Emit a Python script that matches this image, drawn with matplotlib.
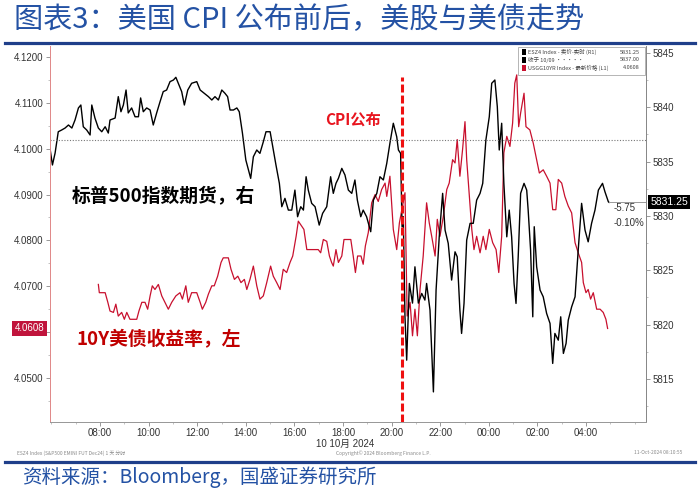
import numpy as np
import matplotlib
matplotlib.use('Agg')
import matplotlib.pyplot as plt
from matplotlib.lines import Line2D
from matplotlib.patches import Rectangle
from matplotlib.ticker import MultipleLocator, FixedLocator

plt.rcParams['font.family'] = ['Noto Sans CJK SC', 'DejaVu Sans']

# 时间：小时（从10月10日00:00算起，>24 为次日）
es_t = [5.94, 6.04, 6.15, 6.28, 6.42, 6.56, 6.70, 6.84, 6.97, 7.11, 7.21, 7.31, 7.45, 7.59,
        7.66, 7.79, 7.93, 8.07, 8.21, 8.34, 8.41, 8.62, 8.75, 8.86, 8.96, 9.07, 9.16, 9.30,
        9.44, 9.58, 9.67, 9.78, 9.92, 10.06, 10.19, 10.33, 10.47, 10.60, 10.74, 10.88, 11.02,
        11.12, 11.22, 11.36, 11.47, 11.61, 11.77, 11.98, 12.12, 12.29, 12.46, 12.60, 12.73,
        12.87, 13.01, 13.14, 13.25, 13.35, 13.49, 13.63, 13.73, 13.86, 14.00, 14.20, 14.31,
        14.45, 14.58, 14.72, 14.83, 15.00, 15.13, 15.24, 15.38, 15.48, 15.61, 15.75, 15.89,
        16.02, 16.13, 16.26, 16.37, 16.48, 16.57, 16.71, 16.85, 17.02, 17.16, 17.33, 17.49,
        17.60, 17.71, 17.81, 17.95, 18.08, 18.22, 18.36, 18.49, 18.59, 18.73, 18.83, 18.97,
        19.14, 19.25, 19.39, 19.52, 19.66, 19.80, 19.93, 20.07, 20.21, 20.28, 20.37, 20.43,
        20.48, 20.55, 20.62, 20.73, 20.86, 20.96, 21.10, 21.24, 21.37, 21.44, 21.58, 21.72,
        21.83, 21.96, 22.10, 22.20, 22.33, 22.47, 22.61, 22.70, 22.81, 22.88, 22.98, 23.09,
        23.23, 23.36, 23.50, 23.64, 23.75, 23.88, 24.02, 24.12, 24.25, 24.35, 24.43, 24.53,
        24.62, 24.74, 24.84, 24.94, 25.04, 25.12, 25.21, 25.31, 25.45, 25.56, 25.62, 25.72,
        25.81, 25.87, 25.97, 26.11, 26.24, 26.38, 26.52, 26.63, 26.72, 26.86, 26.96, 27.07,
        27.18, 27.27, 27.41, 27.55, 27.68, 27.82, 27.96, 28.09, 28.23, 28.37, 28.51, 28.68,
        28.78, 28.92, 28.95]
es_px = [5836.22, 5834.69, 5835.79, 5837.75, 5837.91, 5838.09, 5838.37, 5838.09, 5838.83,
         5839.94, 5840.21, 5838.21, 5837.91, 5837.45, 5840.21, 5839.01, 5838.09, 5837.75,
         5838.21, 5837.63, 5838.83, 5839.01, 5840.98, 5839.59, 5840.21, 5841.59, 5839.48,
         5839.94, 5839.13, 5839.13, 5840.86, 5839.59, 5839.94, 5839.75, 5838.37, 5839.48,
         5840.52, 5841.44, 5841.59, 5842.36, 5842.51, 5842.76, 5842.21, 5841.44, 5840.21,
         5841.59, 5842.21, 5842.36, 5841.59, 5841.29, 5840.98, 5840.67, 5840.98, 5840.67,
         5841.59, 5841.29, 5840.98, 5839.75, 5839.75, 5839.94, 5839.59, 5837.63, 5835.15,
         5833.46, 5835.45, 5836.07, 5835.76, 5836.83, 5837.75, 5837.75, 5836.07, 5834.69,
         5833.00, 5830.85, 5831.62, 5830.54, 5830.54, 5832.38, 5829.93, 5830.85, 5830.54,
         5833.61, 5832.38, 5831.16, 5830.85, 5829.16, 5830.24, 5830.85, 5833.61, 5832.08,
         5833.00, 5833.46, 5834.38, 5833.77, 5832.38, 5832.08, 5833.31, 5831.46, 5829.93,
         5830.54, 5829.93, 5828.55, 5831.46, 5832.08, 5833.61, 5833.31, 5834.84, 5836.69,
         5838.53, 5837.29, 5836.07, 5835.76, 5829.01, 5829.93, 5820.72, 5816.73, 5823.79,
         5821.98, 5825.32, 5821.98, 5822.87, 5822.26, 5823.79, 5821.34, 5813.81, 5823.18,
         5828.08, 5832.08, 5828.70, 5827.48, 5824.10, 5826.70, 5826.24, 5821.34, 5819.19,
         5821.95, 5827.78, 5829.32, 5829.32, 5831.46, 5832.08, 5833.00, 5836.99, 5839.13,
         5842.21, 5842.51, 5840.06, 5836.07, 5838.53, 5833.00, 5828.08, 5830.54, 5828.08,
         5823.79, 5821.95, 5826.24, 5832.08, 5833.00, 5832.38, 5830.54, 5826.86, 5820.72,
         5829.01, 5825.32, 5823.18, 5822.56, 5821.03, 5820.11, 5816.43, 5819.19, 5818.57,
         5820.72, 5817.35, 5818.27, 5820.41, 5821.64, 5822.56, 5826.86, 5831.16, 5828.70,
         5827.62, 5829.32, 5830.54, 5832.38, 5833.00, 5832.23, 5831.31, 5831.25]

ust_t = [7.93, 7.97, 8.21, 8.32, 8.41, 8.55, 8.65, 8.75, 8.89, 9.00, 9.10, 9.23, 9.51, 9.60,
         9.72, 9.85, 9.96, 10.06, 10.15, 10.26, 10.40, 10.54, 10.67, 10.81, 10.95, 11.12,
         11.29, 11.39, 11.53, 11.63, 11.77, 11.98, 12.12, 12.21, 12.35, 12.46, 12.60, 12.70,
         12.84, 12.98, 13.07, 13.28, 13.39, 13.53, 13.67, 13.80, 13.94, 14.04, 14.17, 14.31,
         14.45, 14.58, 14.72, 14.86, 15.02, 15.13, 15.27, 15.41, 15.54, 15.68, 15.82, 15.93,
         16.07, 16.16, 16.30, 16.39, 16.51, 16.78, 16.98, 17.08, 17.19, 17.33, 17.44, 17.53,
         17.60, 17.71, 17.81, 17.95, 18.04, 18.32, 18.42, 18.51, 18.60, 18.74, 18.83, 18.92,
         19.04, 19.18, 19.32, 19.45, 19.59, 19.73, 19.80, 19.93, 20.07, 20.21, 20.32, 20.55,
         20.64, 20.76, 20.86, 20.96, 21.06, 21.17, 21.30, 21.44, 21.55, 21.65, 21.79, 21.88,
         21.99, 22.13, 22.27, 22.37, 22.51, 22.61, 22.70, 22.81, 22.92, 23.02, 23.09, 23.19,
         23.30, 23.39, 23.50, 23.64, 23.77, 23.88, 24.02, 24.16, 24.30, 24.41, 24.53, 24.62,
         24.74, 24.87, 24.98, 25.07, 25.15, 25.23, 25.31, 25.45, 25.53, 25.69, 25.83, 25.97,
         26.08, 26.24, 26.38, 26.52, 26.63, 26.76, 26.86, 27.00, 27.13, 27.27, 27.41, 27.55,
         27.68, 27.82, 27.89, 28.00, 28.09, 28.19, 28.30, 28.44, 28.58, 28.71, 28.82, 28.89]
ust_yld = [4.0704, 4.0686, 4.0686, 4.0665, 4.0646, 4.0643, 4.0661, 4.0635, 4.0643, 4.0628,
           4.0643, 4.0628, 4.0628, 4.0646, 4.0665, 4.0665, 4.0650, 4.0679, 4.0701, 4.0693,
           4.0704, 4.0679, 4.0665, 4.0650, 4.0665, 4.0679, 4.0686, 4.0672, 4.0701, 4.0665,
           4.0686, 4.0686, 4.0665, 4.0650, 4.0665, 4.0683, 4.0701, 4.0701, 4.0722, 4.0752,
           4.0762, 4.0762, 4.0737, 4.0715, 4.0722, 4.0708, 4.0715, 4.0693, 4.0715, 4.0744,
           4.0701, 4.0672, 4.0679, 4.0708, 4.0744, 4.0722, 4.0708, 4.0693, 4.0737, 4.0730,
           4.0752, 4.0766, 4.0809, 4.0842, 4.0831, 4.0824, 4.0780, 4.0780, 4.0780, 4.0773,
           4.0802, 4.0798, 4.0766, 4.0752, 4.0744, 4.0780, 4.0752, 4.0766, 4.0802, 4.0802,
           4.0766, 4.0730, 4.0766, 4.0766, 4.0748, 4.0788, 4.0817, 4.0882, 4.0900, 4.0885,
           4.0911, 4.0925, 4.0896, 4.0940, 4.0824, 4.0780, 4.0838, 4.0904, 4.0635, 4.0665,
           4.0592, 4.0650, 4.0592, 4.0693, 4.0766, 4.0882, 4.0838, 4.0809, 4.0766, 4.0846,
           4.0809, 4.0853, 4.0911, 4.0925, 4.0976, 4.0969, 4.1020, 4.0940, 4.0998, 4.1059,
           4.0976, 4.0904, 4.0824, 4.0780, 4.0809, 4.0773, 4.0809, 4.0780, 4.0824, 4.0795,
           4.0780, 4.0730, 4.0809, 4.0991, 4.1027, 4.1005, 4.1056, 4.1143, 4.1161, 4.1048,
           4.1078, 4.1121, 4.1048, 4.1041, 4.1012, 4.0976, 4.0947, 4.0954, 4.0940, 4.0925,
           4.0867, 4.0867, 4.0933, 4.0925, 4.0896, 4.0875, 4.0860, 4.0795, 4.0773, 4.0752,
           4.0708, 4.0686, 4.0693, 4.0672, 4.0686, 4.0650, 4.0650, 4.0643, 4.0628, 4.0608]

prev_close = 5837.00
cpi_time = 20.42
x_ticks = [8, 10, 12, 14, 16, 18, 20, 22, 24, 26, 28]
x_labels = ['08:00', '10:00', '12:00', '14:00', '16:00', '18:00', '20:00',
            '22:00', '00:00', '02:00', '04:00']
left_ticks = [4.05, 4.06, 4.07, 4.08, 4.09, 4.10, 4.11, 4.12]
left_labels = ['4.0500', '', '4.0700', '4.0800', '4.0900', '4.1000', '4.1100', '4.1200']
right_ticks = [5815, 5820, 5825, 5830, 5835, 5840, 5845]

red = '#c8102e'
navy = '#1f3f8a'
tick_font = dict(family='Liberation Sans', size=7, color='#333333')

fig = plt.figure(figsize=(7, 4.91), dpi=100)
ax = fig.add_axes([50 / 700, 1 - 422 / 491, 596 / 700, 376 / 491])
ax2 = ax.twinx()

ax.plot(ust_t, ust_yld, color=red, lw=0.9)
ax2.plot(es_t, es_px, color='black', lw=1.0)

xmax = 30.47
ax.set_xlim(5.94, xmax)
ax.set_ylim(4.0404, 4.1224)
ax2.set_ylim(5811.04, 5845.64)

ax2.axhline(prev_close, color='#777777', lw=0.8, ls=(0, (1, 1.5)))
ax2.plot([es_t[-1], xmax], [es_px[-1], es_px[-1]], color='#999999', lw=0.7)
ax2.axvline(cpi_time, ymin=0, ymax=0.918, color='#ee1111', lw=2.2, ls=(0, (2.6, 1.0)))

# 坐标轴
ax.set_xticks(x_ticks)
ax.set_xticklabels(x_labels)
ax.xaxis.set_minor_locator(MultipleLocator(1))
ax.yaxis.set_major_locator(FixedLocator(left_ticks))
ax.yaxis.set_minor_locator(MultipleLocator(0.005))
ax.set_yticklabels(left_labels)
ax2.yaxis.set_major_locator(FixedLocator(right_ticks))
ax2.yaxis.set_minor_locator(MultipleLocator(2.5))
ax2.set_yticklabels([str(v) for v in right_ticks])
for a in (ax, ax2):
    for lab in a.get_xticklabels() + a.get_yticklabels():
        lab.set_fontfamily(tick_font['family'])
        lab.set_fontsize(tick_font['size'])
        lab.set_color(tick_font['color'])
ax.tick_params(axis='both', which='major', length=3, width=0.6, color='#888888', pad=1.5)
ax.tick_params(axis='both', which='minor', length=1.5, width=0.5, color='#aaaaaa')
ax2.tick_params(axis='y', which='major', length=3, width=0.6, color='#888888', pad=1.5)
ax2.tick_params(axis='y', which='minor', length=1.5, width=0.5, color='#aaaaaa')
for a in (ax, ax2):
    a.spines['top'].set_visible(False)
    a.spines['left'].set_color('#e08a8a')
    a.spines['right'].set_color('#888888')
    a.spines['bottom'].set_color('#999999')
    for s in a.spines.values():
        s.set_linewidth(0.7)

# 最新价标签
ax.annotate('%.4f' % ust_yld[-1], xy=(0, ust_yld[-1]), xycoords=('axes fraction', 'data'),
            xytext=(-4, 0), textcoords='offset points', ha='right', va='center',
            fontfamily='Liberation Sans', fontsize=7, color='white',
            bbox=dict(boxstyle='square,pad=0.25', fc='#c0143c', ec='none'))
ax2.annotate('%.2f' % es_px[-1], xy=(1, es_px[-1]), xycoords=('axes fraction', 'data'),
             xytext=(3, 0), textcoords='offset points', ha='left', va='center',
             fontfamily='Liberation Sans', fontsize=7.5, color='white',
             bbox=dict(boxstyle='square,pad=0.2', fc='black', ec='none'))
chg = es_px[-1] - prev_close
ax2.annotate('%.2f' % chg, xy=(es_t[-1], es_px[-1]), xytext=(3, -4),
             textcoords='offset points', ha='left', va='center',
             fontfamily='Liberation Sans', fontsize=7, color='#333333')
ax2.annotate('%.2f%%' % (chg / prev_close * 100), xy=(es_t[-1], es_px[-1]), xytext=(3, -15),
             textcoords='offset points', ha='left', va='center',
             fontfamily='Liberation Sans', fontsize=7, color='#333333')

# 注释文字
ax2.text(0.508, 0.803, 'CPI公布', transform=ax2.transAxes, ha='center', va='center',
         fontsize=11, fontweight='bold', color='#e8141e')
ax2.text(0.037, 0.603, '标普500指数期货，右', transform=ax2.transAxes, ha='left', va='center',
         fontsize=13.5, fontweight='bold', color='black')
ax2.text(0.045, 0.218, '10Y美债收益率，左', transform=ax2.transAxes, ha='left', va='center',
         fontsize=13.5, fontweight='bold', color='#c00000')

# 图例框
ax2.add_patch(Rectangle((0.785, 0.923), 0.213, 0.074, transform=ax2.transAxes,
                        fc='white', ec='#aaaaaa', lw=0.6, zorder=5))
leg_rows = [('ESZ4 Index - 卖价-实时 (R1)', '%.2f' % es_px[-1], 'black'),
            ('收于 10/09 ·····', '%.2f' % prev_close, 'black'),
            ('USGG10YR Index - 最新价格 (L1)', '%.4f' % ust_yld[-1], red)]
for i, (name, val, c) in enumerate(leg_rows):
    yy = 0.984 - i * 0.021
    ax2.add_patch(Rectangle((0.792, yy - 0.008), 0.007, 0.016, transform=ax2.transAxes,
                            fc=c, ec='none', zorder=6))
    ax2.text(0.802, yy, name, transform=ax2.transAxes, fontsize=4, va='center',
             ha='left', color='#444444', zorder=6)
    ax2.text(0.99, yy, val, transform=ax2.transAxes, fontsize=4, va='center',
             ha='right', color='#444444', zorder=6)

# 日期与页脚
fig.text(345 / 700, 1 - 444 / 491, '10 10月 2024', ha='center', va='center',
         fontsize=7, color='#333333', family=['Liberation Sans', 'Noto Sans CJK SC'])
fig.text(17 / 700, 1 - 453 / 491, 'ESZ4 Index (S&P500 EMINI FUT Dec24) 1 天 分时',
         fontsize=3.5, color='#888888', va='center')
fig.text(383 / 700, 1 - 453 / 491, 'Copyright© 2024 Bloomberg Finance L.P.',
         fontsize=3.5, color='#888888', va='center', ha='center')
fig.text(682 / 700, 1 - 453 / 491, '11-Oct-2024 08:10:55',
         fontsize=3.5, color='#888888', va='center', ha='right')

# 标题、来源与蓝色分隔线
fig.text(14 / 700, 1 - 20 / 491, '图表3：美国 CPI 公布前后，美股与美债走势',
         fontsize=21, color='#2452a4', va='center', ha='left')
fig.text(22 / 700, 1 - 477 / 491, '资料来源：Bloomberg，国盛证券研究所',
         fontsize=14, color='#2452a4', va='center', ha='left')
for yy in (43, 462):
    fig.add_artist(Line2D([5 / 700, 695 / 700], [1 - yy / 491, 1 - yy / 491],
                          color=navy, lw=2.3))

fig.savefig('out.png', dpi=100)
